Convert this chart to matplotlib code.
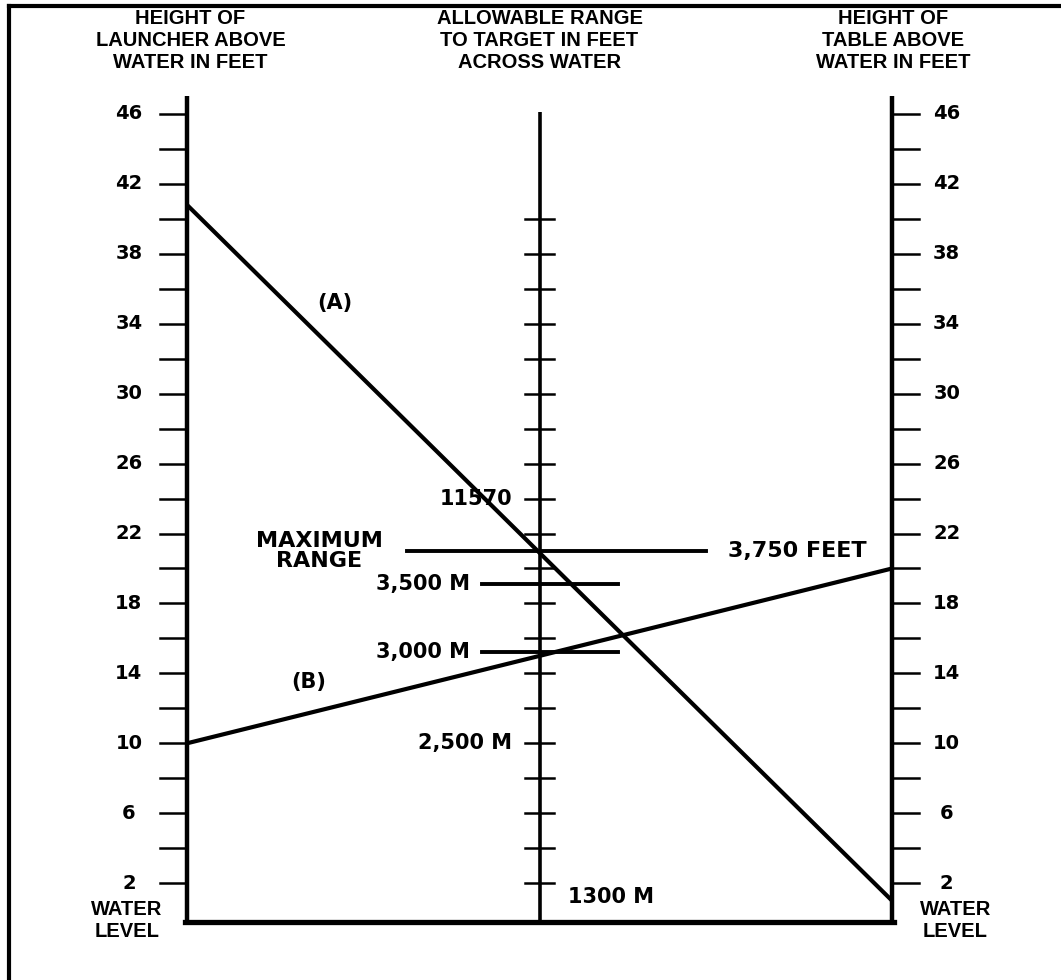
"""Nomogram: launcher height vs table height -> allowable range across water."""
import matplotlib
matplotlib.use("Agg")
import matplotlib.pyplot as plt
from matplotlib import font_manager
import numpy as np

# scale values (feet above water)
SIDE_TICKS = np.arange(2, 47, 2)
SIDE_LABELS = [46, 42, 38, 34, 30, 26, 22, 18, 14, 10, 6, 2]
CENTER_TICKS = np.arange(2, 41, 2)

# reading lines: (launcher height, table height)
LINE_A = [40.8, 1.0]
LINE_B = [10.0, 20.0]

# range marks on centre scale
MAX_RANGE = 21.0
RANGE_MARKS = [("3,500 M", 19.1), ("3,000 M", 15.2)]
CENTER_LABELS = [("11570", 24), ("2,500 M", 10)]

HEADERS = ["HEIGHT OF\nLAUNCHER ABOVE\nWATER IN FEET",
           "ALLOWABLE RANGE\nTO TARGET IN FEET\nACROSS WATER",
           "HEIGHT OF\nTABLE ABOVE\nWATER IN FEET"]

XL, XC, XR = 0.0, 1.0, 2.0


def narrow_font():
    for name in ("Liberation Sans Narrow", "Arial Narrow"):
        try:
            font_manager.findfont(font_manager.FontProperties(family=name, weight="bold"),
                                  fallback_to_default=False)
            return name, 16.5
        except Exception:
            pass
    return "Liberation Sans", 14.5


NARROW_NAME, NARROW_SIZE = narrow_font()
BOLD = dict(fontsize=15, fontweight="bold", family=["DejaVu Sans"])
NUM = dict(fontsize=14, fontweight="bold", family=["DejaVu Sans"])
NARROW = dict(fontsize=NARROW_SIZE, fontweight="bold",
              family=[NARROW_NAME, "DejaVu Sans"])


def main():
    fig = plt.figure(figsize=(10.61, 9.8), dpi=100)
    ax = fig.add_axes([0, 0, 1, 1])
    ax.set_xlim(-0.5305, 2.4794)
    ax.set_ylim(-3.54, 52.52)
    ax.axis("off")

    lw_axis = 3.2
    bottom = -0.2
    # axes
    ax.plot([XL, XL], [bottom, 47.0], color="black", lw=lw_axis, solid_capstyle="butt")
    ax.plot([XR, XR], [bottom, 47.0], color="black", lw=lw_axis, solid_capstyle="butt")
    ax.plot([XC, XC], [bottom, 46.1], color="black", lw=2.6, solid_capstyle="butt")
    ax.plot([XL - 0.005, XR + 0.005], [bottom, bottom], color="black", lw=3.8,
            solid_capstyle="projecting")

    # ticks
    for v in SIDE_TICKS:
        ax.plot([XL - 0.077, XL], [v, v], color="black", lw=1.8)
        ax.plot([XR, XR + 0.077], [v, v], color="black", lw=1.8)
    for v in CENTER_TICKS:
        ax.plot([XC - 0.04, XC + 0.04], [v, v], color="black", lw=1.8)

    for v in SIDE_LABELS:
        ax.text(XL - 0.165, v, str(v), ha="center", va="center", **NUM)
        ax.text(XR + 0.155, v, str(v), ha="center", va="center", **NUM)
    for x in (XL - 0.17, XR + 0.18):
        ax.text(x, -0.12, "WATER\nLEVEL", ha="center", va="center",
                linespacing=1.2, **NARROW)

    # headers
    for x, h in zip((XL + 0.01, XC, XR + 0.003), HEADERS):
        ax.text(x, 51.98, h, ha="center", va="top", linespacing=1.18, **NARROW)

    # reading lines
    ax.plot([XL, XR], LINE_A, color="black", lw=3.0, solid_capstyle="butt")
    ax.plot([XL, XR], LINE_B, color="black", lw=3.0, solid_capstyle="butt")
    ax.text(0.42, 35.2, "(A)", ha="center", va="center", **BOLD)
    ax.text(0.344, 13.5, "(B)", ha="center", va="center", **BOLD)

    # range marks
    ax.plot([0.624, 1.472], [MAX_RANGE, MAX_RANGE], color="black", lw=2.8)
    ax.text(0.375, 21.0, "MAXIMUM\nRANGE", ha="center", va="center",
            linespacing=1.0, fontsize=16, fontweight="bold", family=["DejaVu Sans"])
    ax.text(1.535, MAX_RANGE, "3,750 FEET", ha="left", va="center",
            fontsize=16, fontweight="bold", family=["DejaVu Sans"])
    for lab, v in RANGE_MARKS:
        ax.plot([0.837, 1.223], [v, v], color="black", lw=2.8)
        ax.text(0.802, v, lab, ha="right", va="center", **BOLD)
    for lab, v in CENTER_LABELS:
        ax.text(0.923, v, lab, ha="right", va="center", **BOLD)
    ax.text(1.08, 1.2, "1300 M", ha="left", va="center", **BOLD)

    # outer frame (top and left edges)
    ax.plot([0.0085, 0.0085], [0, 0.994], color="black", lw=3.0,
            transform=ax.transAxes, solid_capstyle="projecting")
    ax.plot([0.0085, 1.0], [0.994, 0.994], color="black", lw=3.0,
            transform=ax.transAxes, solid_capstyle="projecting")

    fig.savefig("out.png", dpi=100, facecolor="white")


if __name__ == "__main__":
    main()
